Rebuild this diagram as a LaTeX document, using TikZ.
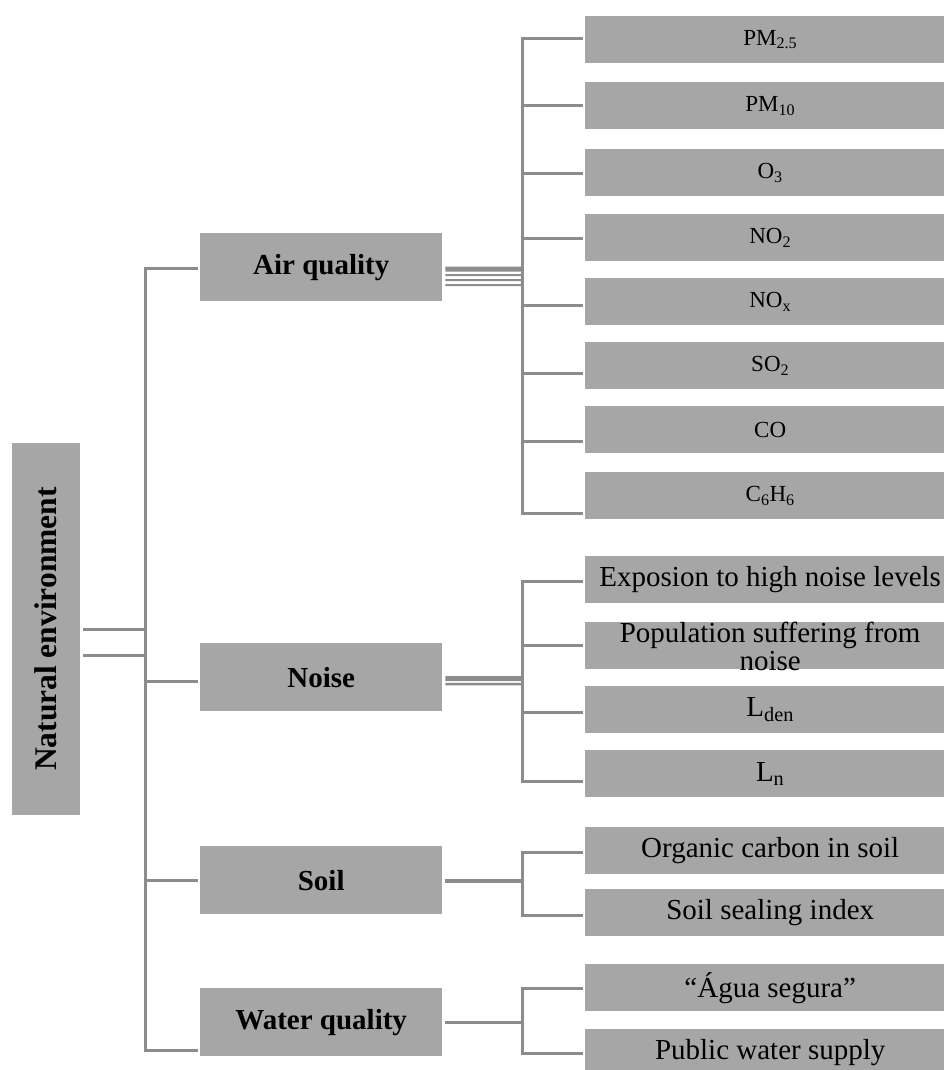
\documentclass[tikz,border=0pt]{standalone}
\usepackage{fontspec}
\setmainfont{Liberation Serif}
\definecolor{boxgray}{RGB}{166,166,166}
\definecolor{linegray}{RGB}{140,140,140}
\begin{document}
\begin{tikzpicture}[x=1pt,y=-1pt,
  box/.style={fill=boxgray, draw=none, inner sep=0pt, anchor=north west, text=black},
  topic/.style={box, minimum width=242pt, minimum height=68pt,
    font=\fontsize{29}{34}\selectfont\bfseries},
  leaf/.style={box, minimum width=370pt, minimum height=47pt},
  smalltxt/.style={font=\fontsize{23}{27}\selectfont},
  bigtxt/.style={font=\fontsize{29}{34}\selectfont},
  conn/.style={draw=linegray, line width=3pt},
  bundle/.style={draw=linegray, line width=#1},
]
\useasboundingbox (0,0) rectangle (944,1070);
\clip (0,0) rectangle (944,1070);

% root
\node[fill=boxgray, inner sep=0pt, rotate=90, minimum width=372pt, minimum height=68pt,
  font=\fontsize{31.5}{36}\selectfont\bfseries] (root) at (46,629) {Natural environment};

% second level
\node[topic] (air)   at (200,233) {Air quality};
\node[topic] (noise) at (200,643) {Noise};
\node[topic] (soil)  at (200,846) {Soil};
\node[topic] (water) at (200,988) {Water quality};

% air quality indicators
\node[leaf, smalltxt] (pm25) at (585,16)  {PM\textsubscript{2.5}};
\node[leaf, smalltxt] (pm10) at (585,82)  {PM\textsubscript{10}};
\node[leaf, smalltxt] (o3)   at (585,149) {O\textsubscript{3}};
\node[leaf, smalltxt] (no2)  at (585,214) {NO\textsubscript{2}};
\node[leaf, smalltxt] (nox)  at (585,278) {NO\textsubscript{x}};
\node[leaf, smalltxt] (so2)  at (585,342) {SO\textsubscript{2}};
\node[leaf, smalltxt] (co)   at (585,406) {CO};
\node[leaf, smalltxt] (c6h6) at (585,472) {C\textsubscript{6}H\textsubscript{6}};

% noise indicators
\node[leaf, bigtxt] (expo) at (585,556) {Exposion to high noise levels};
\node[leaf] (popu) at (585,622) {};
\node[bigtxt, align=center, inner sep=0pt, text=black] (poputxt) at ([yshift=-1]popu.center)
  {Population suffering from\\[-6pt]noise};
\node[leaf, bigtxt] (lden) at (585,686) {L\textsubscript{den}};
\node[leaf, bigtxt] (ln)   at (585,750) {L\textsubscript{n}};

% soil indicators
\node[leaf, bigtxt] (orgc) at (585,827) {Organic carbon in soil};
\node[leaf, bigtxt] (seal) at (585,889) {Soil sealing index};

% water indicators
\node[leaf, bigtxt] (agua) at (585,964)  {“Água segura”};
\node[leaf, bigtxt] (publ) at (585,1029) {Public water supply};

% main trunk
\coordinate (tA) at (145,268);
\coordinate (tN) at (145,681);
\coordinate (tS) at (145,880);
\coordinate (tW) at (145,1050);
\draw[conn] ([xshift=-2]air.west |- tA) -- (tA) -- (tW) -- ([xshift=-2]water.west |- tW);
\draw[conn] (tN) -- ([xshift=-2]noise.west |- tN);
\draw[conn] (tS) -- ([xshift=-2]soil.west |- tS);
\draw[conn] ([shift={(37,0)}]root.center) -- (tA |- root.center);
\draw[conn] ([shift={(37,26)}]root.center) -- ++(62,0);

% air quality branches
\coordinate (a1) at (522,39);
\coordinate (a2) at (522,106);
\coordinate (a3) at (522,173);
\coordinate (a4) at (522,238);
\coordinate (a5) at (522,305);
\coordinate (a6) at (522,373);
\coordinate (a7) at (522,441);
\coordinate (a8) at (522,513);
\draw[conn] ([xshift=-2]pm25.west |- a1) -- (a1) -- (a8) -- ([xshift=-2]c6h6.west |- a8);
\foreach \p/\q in {a2/pm10, a3/o3, a4/no2, a5/nox, a6/so2, a7/co}
  \draw[conn] (\p) -- ([xshift=-2]\q.west |- \p);
\draw[bundle=5pt]   ([shift={(3,2)}]air.east)  -- (a1 |- 0,269);
\draw[bundle=2pt]   ([shift={(3,8)}]air.east)  -- (a1 |- 0,275);
\draw[bundle=2pt]   ([shift={(3,13)}]air.east) -- (a1 |- 0,280);
\draw[bundle=2pt]   ([shift={(3,18)}]air.east) -- (a1 |- 0,285);

% noise branches
\coordinate (n1) at (522,581);
\coordinate (n2) at (522,645);
\coordinate (n3) at (522,712);
\coordinate (n4) at (522,781);
\draw[conn] ([xshift=-2]expo.west |- n1) -- (n1) -- (n4) -- ([xshift=-2]ln.west |- n4);
\draw[conn] (n2) -- ([xshift=-2]popu.west |- n2);
\draw[conn] (n3) -- ([xshift=-2]lden.west |- n3);
\draw[bundle=5pt] ([shift={(3,1.5)}]noise.east) -- (n1 |- 0,678.5);
\draw[bundle=2.5pt] ([shift={(3,7)}]noise.east) -- (n1 |- 0,684);

% soil branches
\coordinate (s1) at (522,852);
\coordinate (s2) at (522,915);
\draw[conn] ([xshift=-2]orgc.west |- s1) -- (s1) -- (s2) -- ([xshift=-2]seal.west |- s2);
\draw[bundle=4.5pt] ([xshift=3]soil.east |- 0,881) -- (s1 |- 0,881);

% water branches
\coordinate (w1) at (522,988);
\coordinate (w2) at (522,1053);
\draw[conn] ([xshift=-2]agua.west |- w1) -- (w1) -- (w2) -- ([xshift=-2]publ.west |- w2);
\draw[bundle=3pt] ([xshift=3]water.east |- 0,1022.5) -- (w1 |- 0,1022.5);
\end{tikzpicture}
\end{document}
